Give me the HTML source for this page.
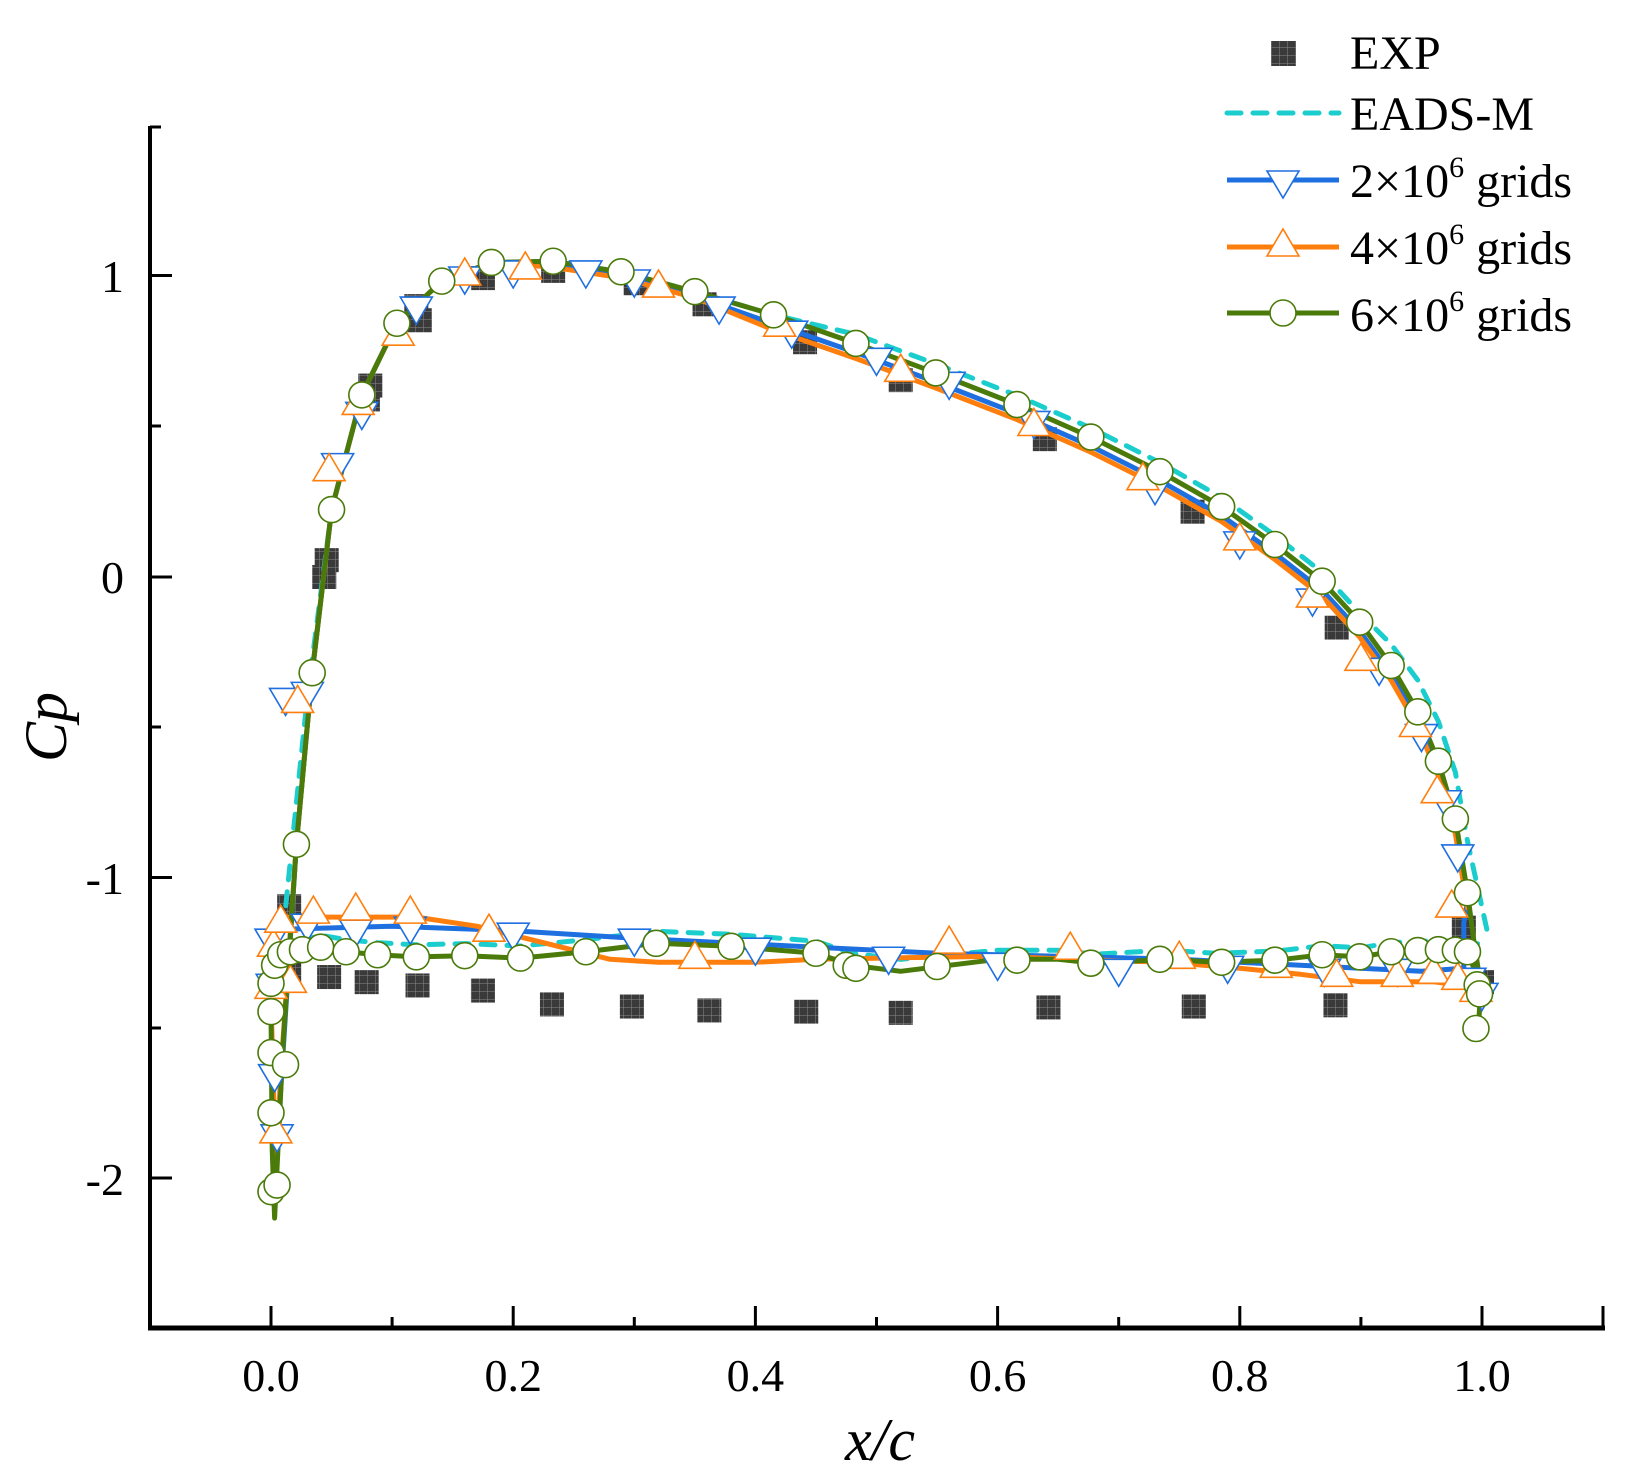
<!DOCTYPE html>
<html><head><meta charset="utf-8">
<style>
html,body{margin:0;padding:0;background:#fff;}
svg{display:block;font-family:"Liberation Serif",serif;}
</style></head>
<body>
<svg id="s" width="1647" height="1483" viewBox="0 0 1647 1483" xmlns="http://www.w3.org/2000/svg">
<defs>
<pattern id="grid" width="8" height="8" patternUnits="userSpaceOnUse">
<rect width="8" height="8" fill="#3a3a3a"/>
<path d="M8 0V8M0 8H8" stroke="#8a8a8a" stroke-width="1"/>
</pattern>
</defs>
<g id="plot"></g>
<g stroke="#000" fill="none">
<line x1="150" y1="126" x2="150" y2="1330" stroke-width="4"/>
<line x1="148" y1="1328" x2="1605" y2="1328" stroke-width="5"/>
<line x1="150" y1="127" x2="161" y2="127" stroke-width="3"/>
<g stroke-width="3">
<line x1="150" y1="275.5" x2="172" y2="275.5"/>
<line x1="150" y1="426" x2="161" y2="426"/>
<line x1="150" y1="577" x2="172" y2="577"/>
<line x1="150" y1="727" x2="161" y2="727"/>
<line x1="150" y1="877.5" x2="172" y2="877.5"/>
<line x1="150" y1="1028" x2="161" y2="1028"/>
<line x1="150" y1="1178" x2="172" y2="1178"/>
<line x1="271" y1="1328" x2="271" y2="1306"/>
<line x1="392.1" y1="1328" x2="392.1" y2="1317"/>
<line x1="513.2" y1="1328" x2="513.2" y2="1306"/>
<line x1="634.3" y1="1328" x2="634.3" y2="1317"/>
<line x1="755.4" y1="1328" x2="755.4" y2="1306"/>
<line x1="876.5" y1="1328" x2="876.5" y2="1317"/>
<line x1="997.6" y1="1328" x2="997.6" y2="1306"/>
<line x1="1118.7" y1="1328" x2="1118.7" y2="1317"/>
<line x1="1239.8" y1="1328" x2="1239.8" y2="1306"/>
<line x1="1360.9" y1="1328" x2="1360.9" y2="1317"/>
<line x1="1482" y1="1328" x2="1482" y2="1306"/>
<line x1="1603" y1="1328" x2="1603" y2="1306"/>
</g>
</g>
<g font-size="46" fill="#000" text-anchor="end">
<text x="124" y="292">1</text>
<text x="124" y="593">0</text>
<text x="124" y="894">-1</text>
<text x="124" y="1195">-2</text>
</g>
<g font-size="46" fill="#000" text-anchor="middle">
<text x="271" y="1391">0.0</text>
<text x="513.2" y="1391">0.2</text>
<text x="755.4" y="1391">0.4</text>
<text x="997.6" y="1391">0.6</text>
<text x="1239.8" y="1391">0.8</text>
<text x="1482" y="1391">1.0</text>
</g>
<text x="880" y="1460" font-size="60" font-style="italic" text-anchor="middle">x/c</text>
<text transform="translate(66,727) rotate(-90)" font-size="60" font-style="italic" text-anchor="middle">Cp</text>
<g id="legend">
<rect x="1271" y="41" width="25" height="25" fill="url(#grid)"/>
<text x="1350" y="69" font-size="48">EXP</text>
<line x1="1227" y1="113" x2="1339" y2="113" stroke="#1ccdcd" stroke-width="5" stroke-dasharray="14,12" stroke-linecap="round"/>
<text x="1350" y="130" font-size="48">EADS-M</text>
<line x1="1227" y1="180" x2="1339" y2="180" stroke="#1e6fe0" stroke-width="5"/>
<path d="M1267 171 L1299 171 L1283 198 Z" fill="#fff" stroke="#1e6fe0" stroke-width="1.6"/>
<text x="1350" y="197" font-size="48">2×10<tspan dy="-20" font-size="30">6</tspan><tspan dy="20"> grids</tspan></text>
<line x1="1227" y1="247" x2="1339" y2="247" stroke="#ff7f0e" stroke-width="5"/>
<path d="M1267 256 L1299 256 L1283 229 Z" fill="#fff" stroke="#ff7f0e" stroke-width="1.6"/>
<text x="1350" y="264" font-size="48">4×10<tspan dy="-20" font-size="30">6</tspan><tspan dy="20"> grids</tspan></text>
<line x1="1227" y1="313" x2="1339" y2="313" stroke="#4a7a0a" stroke-width="5"/>
<circle cx="1283" cy="313" r="13" fill="#fff" stroke="#4a7a0a" stroke-width="1.6"/>
<text x="1350" y="331" font-size="48">6×10<tspan dy="-20" font-size="30">6</tspan><tspan dy="20"> grids</tspan></text>
</g>
</svg>
<script>
(function(){
var NS="http://www.w3.org/2000/svg";
var g=document.getElementById("plot");
function X(x){return 271+1211*x;}
function Y(c){return 577-301*c;}
function el(t,a){var e=document.createElementNS(NS,t);for(var k in a)e.setAttribute(k,a[k]);g.appendChild(e);return e;}
var U=[[0.021,-0.888],[0.034,-0.318],[0.05,0.224],[0.075,0.605],[0.104,0.843],[0.141,0.983],[0.182,1.045],[0.233,1.049],[0.289,1.014],[0.35,0.948],[0.415,0.871],[0.483,0.776],[0.549,0.678],[0.616,0.573],[0.677,0.465],[0.734,0.35],[0.785,0.234],[0.829,0.108],[0.868,-0.014],[0.899,-0.15],[0.925,-0.294],[0.947,-0.448],[0.964,-0.612],[0.978,-0.804],[0.988,-1.049]];
var L=[[0.0,-1.44],[0.001,-1.35],[0.004,-1.29],[0.009,-1.255],[0.026,-1.238],[0.041,-1.23],[0.062,-1.245],[0.088,-1.255],[0.12,-1.262],[0.16,-1.258],[0.206,-1.266],[0.26,-1.245],[0.318,-1.217],[0.38,-1.227],[0.45,-1.25],[0.48,-1.29],[0.52,-1.31],[0.6,-1.27],[0.65,-1.27],[0.68,-1.283],[0.74,-1.27],[0.78,-1.28],[0.83,-1.273],[0.868,-1.255],[0.9,-1.262],[0.925,-1.245],[0.945,-1.241],[0.964,-1.238],[0.978,-1.24],[0.988,-1.245]];
function off(arr,f){return arr.map(function(p){return [p[0],p[1]+f(p[0])];});}
function path(pts){return pts.map(function(p,i){return (i?"L":"M")+X(p[0]).toFixed(1)+" "+Y(p[1]).toFixed(1);}).join(" ");}
var E=[[0.044,0],[0.046,0.056],[0.082,0.636],[0.08,0.59],[0.123,0.853],[0.12,0.9],[0.175,0.993],[0.233,1.017],[0.301,0.976],[0.358,0.906],[0.441,0.78],[0.52,0.654],[0.639,0.458],[0.761,0.217],[0.88,-0.168],
[0.015,-1.094],[0.015,-1.315],[0.048,-1.329],[0.079,-1.346],[0.121,-1.357],[0.175,-1.374],[0.232,-1.42],[0.298,-1.427],[0.362,-1.44],[0.442,-1.444],[0.52,-1.448],[0.642,-1.43],[0.762,-1.427],[0.879,-1.423],[1.0,-1.346],[0.985,-1.165]];
E.forEach(function(p){el("rect",{x:X(p[0])-12,y:Y(p[1])-12,width:24,height:24,fill:"url(#grid)"});});
var cu=off(U,function(x){return x>0.9?0.03+(x-0.9)*1.6:(x>0.45?0.03:0);});
var cl=off(L,function(x){return x<0.03?0.03:(x<0.6?0.04:0.03);});
cl=cl.filter(function(p){return p[0]<0.98;});
var cyan=[[1.004,-1.17]].concat(cu.slice(2).reverse()).concat([[0.03,-0.4],[0.012,-1.1],[0.003,-1.2]]).concat(cl.slice(3)).concat([[1.0,-1.22]]);
el("path",{d:path(cyan),fill:"none",stroke:"#1ccdcd","stroke-width":5,"stroke-dasharray":"14,12","stroke-linecap":"round"});
var bu=off(U,function(x){return x>0.4?-0.03:(x>0.2?-0.015:0);});
var bl=[[0.0,-1.35],[0.002,-1.22],[0.01,-1.17],[0.1,-1.16],[0.2,-1.175],[0.3,-1.2],[0.45,-1.23],[0.55,-1.25],[0.65,-1.26],[0.75,-1.27],[0.85,-1.29],[0.95,-1.31],[0.985,-1.3]];
var blue=[[1.0,-1.35],[0.985,-1.3],[0.985,-1.15]].concat(bu.slice().reverse()).concat([[0.008,-1.7],[0.003,-1.97],[0.001,-1.7]]).concat(bl);
el("path",{d:path(blue),fill:"none",stroke:"#1e6fe0","stroke-width":5,"stroke-linejoin":"round"});
var ou=off(U,function(x){return x>0.4?-0.05:(x>0.2?-0.02:0);});
var ol=[[0.0,-1.4],[0.003,-1.2],[0.01,-1.13],[0.12,-1.13],[0.17,-1.16],[0.22,-1.21],[0.28,-1.27],[0.32,-1.28],[0.4,-1.28],[0.45,-1.27],[0.52,-1.265],[0.6,-1.26],[0.66,-1.27],[0.74,-1.28],[0.8,-1.3],[0.85,-1.32],[0.9,-1.345],[0.96,-1.345],[0.99,-1.36],[0.996,-1.41]];
var orange=[[0.99,-1.1]].concat(ou.slice().reverse()).concat([[0.008,-1.65],[0.004,-1.96],[0.002,-1.7]]).concat(ol);
el("path",{d:path(orange),fill:"none",stroke:"#ff7f0e","stroke-width":5,"stroke-linejoin":"round"});
var green=[[0.997,-1.5],[0.999,-1.36],[0.993,-1.2]].concat(U.slice().reverse()).concat([[0.01,-1.55],[0.003,-2.13],[0.001,-1.9]]).concat(L).concat([[0.999,-1.36]]);
el("path",{d:path(green),fill:"none",stroke:"#4a7a0a","stroke-width":5,"stroke-linejoin":"round"});
var bm=[[0.012,-0.4],[0.03,-0.38],[0.055,0.38],[0.075,0.55],[0.12,0.9],[0.16,1.0],[0.2,1.02],[0.26,1.02],[0.3,0.99],[0.37,0.9],[0.43,0.82],[0.5,0.73],[0.56,0.65],[0.63,0.52],[0.73,0.3],[0.8,0.12],[0.86,-0.07],[0.915,-0.3],[0.95,-0.52],[0.97,-0.74],[0.98,-0.92],
[0.0,-1.2],[0.001,-1.35],[0.003,-1.65],[0.005,-1.85],[0.03,-1.15],[0.07,-1.17],[0.115,-1.16],[0.2,-1.18],[0.3,-1.2],[0.4,-1.23],[0.51,-1.26],[0.6,-1.28],[0.7,-1.3],[0.79,-1.29],[0.87,-1.3],[0.93,-1.3],[0.99,-1.33],[1.0,-1.38]];
bm.forEach(function(p){var x=X(p[0]),y=Y(p[1]);el("path",{d:"M"+(x-16)+" "+(y-9)+"L"+(x+16)+" "+(y-9)+"L"+x+" "+(y+18)+"Z",fill:"#fff",stroke:"#1e6fe0","stroke-width":1.6});});
var om=[[0.022,-0.42],[0.048,0.35],[0.072,0.57],[0.105,0.8],[0.16,1.0],[0.21,1.02],[0.32,0.96],[0.42,0.83],[0.52,0.68],[0.63,0.5],[0.72,0.32],[0.8,0.12],[0.86,-0.07],[0.9,-0.28],[0.945,-0.5],[0.963,-0.72],[0.975,-1.1],
[0.0,-1.37],[0.002,-1.23],[0.004,-1.85],[0.008,-1.15],[0.016,-1.35],[0.035,-1.12],[0.07,-1.11],[0.115,-1.12],[0.18,-1.18],[0.35,-1.27],[0.56,-1.22],[0.66,-1.24],[0.75,-1.27],[0.83,-1.3],[0.88,-1.33],[0.93,-1.33],[0.96,-1.32],[0.98,-1.34],[0.995,-1.38]];
om.forEach(function(p){var x=X(p[0]),y=Y(p[1]);el("path",{d:"M"+(x-16)+" "+(y+9)+"L"+(x+16)+" "+(y+9)+"L"+x+" "+(y-18)+"Z",fill:"#fff",stroke:"#ff7f0e","stroke-width":1.6});});
var gm=U.concat([[0.0,-2.042],[0.005,-2.02],[0.0,-1.78],[0.0,-1.58],[0.0,-1.444],[0.0,-1.35],[0.003,-1.29],[0.008,-1.255],[0.012,-1.62],[0.016,-1.245],[0.026,-1.238],[0.041,-1.23],[0.062,-1.245],[0.088,-1.255],[0.12,-1.262],[0.16,-1.258],[0.206,-1.266],[0.26,-1.245],[0.318,-1.217],[0.38,-1.227],[0.45,-1.25],[0.475,-1.29],[0.483,-1.3],[0.55,-1.294],[0.616,-1.273],[0.677,-1.283],[0.734,-1.27],[0.785,-1.28],[0.829,-1.273],[0.868,-1.255],[0.899,-1.262],[0.925,-1.245],[0.947,-1.241],[0.964,-1.238],[0.978,-1.24],[0.988,-1.245],[0.996,-1.355],[0.998,-1.385],[0.995,-1.5]]);
gm.forEach(function(p){el("circle",{cx:X(p[0]),cy:Y(p[1]),r:13,fill:"#fff",stroke:"#4a7a0a","stroke-width":1.6});});
})();
</script>
</body></html>
